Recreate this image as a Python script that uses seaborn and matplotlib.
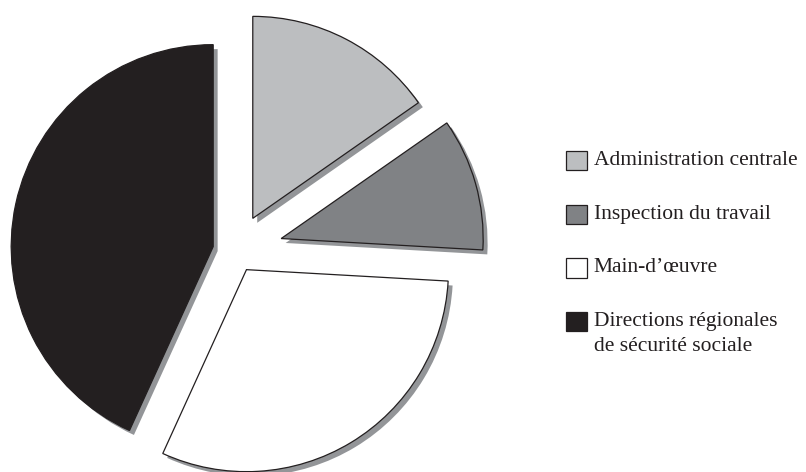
import matplotlib
matplotlib.use("Agg")
import matplotlib.pyplot as plt
from matplotlib.patches import Patch
import seaborn as sns

# slice shares (percent), clockwise from 12 o'clock
labels = ["Administration centrale", "Inspection du travail", "Main-d\u2019\u0153uvre",
          "Directions r\u00e9gionales\nde s\u00e9curit\u00e9 sociale"]
shares = [15.3, 10.6, 30.9, 43.2]
explode = [0.185, 0.235, 0.105, 0.113]
colors = ["#bcbec0", "#808285", "#ffffff", "#231f20"]
shadow_color = "#939598"

sns.set_theme(style="white")
plt.rcParams['font.family'] = ['Liberation Serif', 'DejaVu Serif']

fig = plt.figure(figsize=(8.06, 4.72), dpi=100)
ax = fig.add_axes([0, 0, 1, 1])

# shadow pie, nudged down-right
ax.pie(shares, explode=explode, colors=[shadow_color] * len(shares), startangle=90,
       counterclock=False, radius=1, center=(0.022, -0.022),
       wedgeprops=dict(linewidth=0))
# main pie
ax.pie(shares, explode=explode, colors=colors, startangle=90, counterclock=False,
       radius=1, center=(0, 0),
       wedgeprops=dict(edgecolor="#231f20", linewidth=0.9))

# pixel layout: centre at (235.5, 251.5) px, radius 202 px
r_px = 202.0
cx, cy = 235.5, 251.5
ax.set_xlim(-cx / r_px, (806 - cx) / r_px)
ax.set_ylim(-(472 - cy) / r_px, cy / r_px)
ax.set_aspect("equal")
ax.axis("off")

handles = [Patch(facecolor=c, edgecolor="#231f20", linewidth=0.9) for c in colors]
leg = fig.legend(handles, labels, loc="upper left", bbox_to_anchor=(0.702, 0.68),
                 frameon=False, fontsize=15.5, handlelength=1.0, handleheight=1.0,
                 handletextpad=0.3, labelspacing=1.6, borderpad=0, borderaxespad=0,
                 labelcolor="#231f20")
for t in leg.get_texts():
    t.set_linespacing(1.45)
# put the swatch next to the first line of a two-line label
for col in leg._legend_handle_box.get_children():
    for item in col.get_children():
        item.align = "top"

fig.savefig("out.png", dpi=100)
